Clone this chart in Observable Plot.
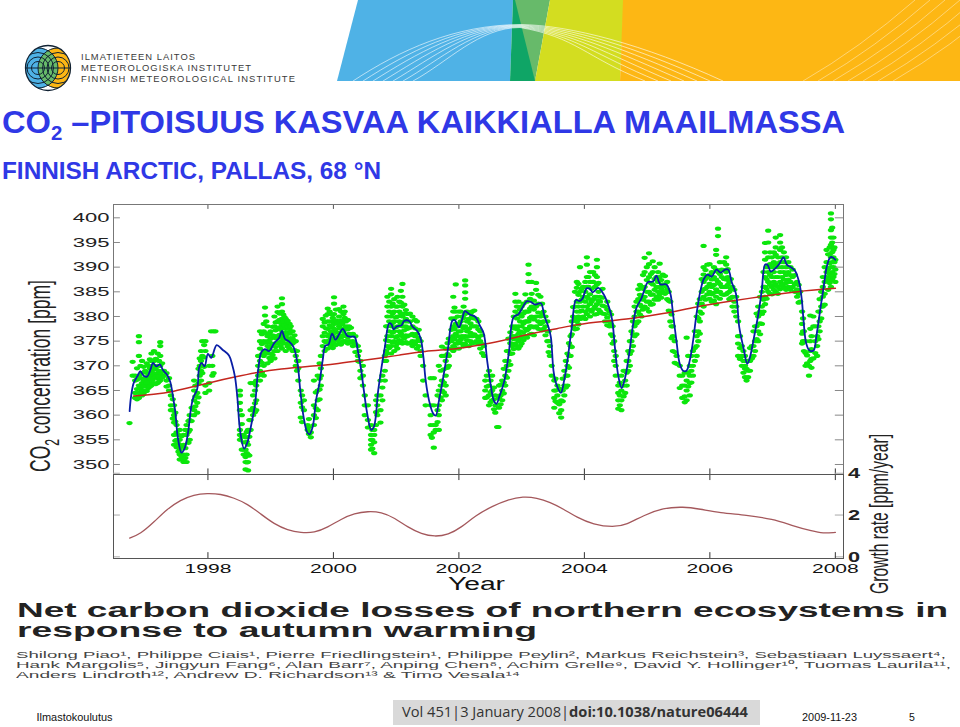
<!DOCTYPE html>
<html><head><meta charset="utf-8">
<script src="https://cdn.jsdelivr.net/npm/d3@7"></script>
<script src="https://cdn.jsdelivr.net/npm/@observablehq/plot@0.6"></script>
<style>
html,body{margin:0;padding:0;background:#fff}
#page{position:relative;width:960px;height:727px;overflow:hidden}
#page>svg{position:absolute;left:0;top:0;background:transparent}
</style></head><body><div id="page"></div>
<script>
const yearTicks=[1998,2000,2002,2004,2006,2008];
const co2Ticks=[350,355,360,365,370,375,380,385,390,395,400];
const rateTicks=[0,2,4];
const co2Title="CO";
const mainTitle=" –PITOISUUS KASVAA KAIKKIALLA MAAILMASSA";
const subTitle="FINNISH ARCTIC, PALLAS, 68 °N";
const paperTitle=["Net carbon dioxide losses of northern ecosystems in","response to autumn warming"];
const authors=["Shilong Piao¹, Philippe Ciais¹, Pierre Friedlingstein¹, Philippe Peylin², Markus Reichstein³, Sebastiaan Luyssaert⁴,",
"Hank Margolis⁵, Jingyun Fang⁶, Alan Barr⁷, Anping Chen⁸, Achim Grelle⁹, David Y. Hollinger¹⁰, Tuomas Laurila¹¹,",
"Anders Lindroth¹², Andrew D. Richardson¹³ & Timo Vesala¹⁴"];
const logoLines=["ILMATIETEEN LAITOS","METEOROLOGISKA INSTITUTET","FINNISH METEOROLOGICAL INSTITUTE"];

// monthly-smoothed concentration (blue)
const smooth=[[1996.752,360.8],[1996.773,363.6],[1996.816,366.5],[1996.88,368],[1996.923,368.9],[1996.976,368],[1997.03,367.8],[1997.083,369.2],[1997.125,370.6],[1997.179,369.9],[1997.232,370.3],[1997.285,369.1],[1997.349,368.2],[1997.4,366.7],[1997.445,363.6],[1997.483,360.3],[1997.52,355.5],[1997.579,352.4],[1997.627,353.2],[1997.68,356.2],[1997.733,361.6],[1997.765,363.5],[1997.829,365.3],[1997.861,369.7],[1997.899,370.6],[1997.947,369.9],[1998,372.4],[1998.053,371.6],[1998.139,374.2],[1998.229,373.3],[1998.336,372.1],[1998.389,370.1],[1998.432,367.7],[1998.469,363.6],[1998.512,356.9],[1998.576,353.2],[1998.629,354.5],[1998.693,358.2],[1998.752,362.3],[1998.8,369.1],[1998.853,372.8],[1998.907,373.4],[1998.976,373],[1999.056,374.6],[1999.136,375.7],[1999.179,377.1],[1999.227,375.5],[1999.296,374.9],[1999.365,373.8],[1999.429,370.4],[1999.472,365],[1999.525,359.6],[1999.579,356.6],[1999.616,356.1],[1999.669,357.6],[1999.723,363],[1999.776,366.4],[1999.829,371.1],[1999.872,374.1],[1999.92,374.3],[1999.979,376.5],[2000.032,375.3],[2000.096,376.5],[2000.149,377.5],[2000.219,376.1],[2000.272,375.9],[2000.336,375.9],[2000.389,373.1],[2000.443,369.1],[2000.485,365],[2000.539,360.3],[2000.603,357],[2000.645,357.6],[2000.714,365],[2000.767,369.7],[2000.82,373.8],[2000.889,378.6],[2000.926,378.4],[2000.958,377.4],[2001.011,378],[2001.085,378.2],[2001.127,379.1],[2001.206,379.1],[2001.259,378],[2001.339,377],[2001.392,375.5],[2001.434,371.8],[2001.471,367],[2001.524,363],[2001.587,360.4],[2001.63,359.9],[2001.683,363],[2001.751,367.7],[2001.825,373.4],[2001.894,379.1],[2001.931,379.3],[2002,377.8],[2002.053,379.5],[2002.095,381.1],[2002.175,380.4],[2002.265,379.9],[2002.333,378.2],[2002.397,376.5],[2002.45,371.1],[2002.503,366.4],[2002.556,363],[2002.598,362.3],[2002.651,364],[2002.725,367],[2002.794,372.4],[2002.873,379.9],[2002.952,380.5],[2003.005,381.6],[2003.085,383.1],[2003.138,383],[2003.217,382.4],[2003.307,382.7],[2003.36,380.2],[2003.429,377.8],[2003.466,375.8],[2003.508,369],[2003.55,366.4],[2003.624,364.5],[2003.677,367],[2003.73,371.1],[2003.799,377.8],[2003.868,383.4],[2003.921,383.1],[2003.968,383.6],[2004.037,385.7],[2004.09,385.6],[2004.132,384.9],[2004.222,385.8],[2004.302,384.6],[2004.392,381.9],[2004.444,379.2],[2004.486,373.8],[2004.54,368],[2004.593,365.5],[2004.646,367.4],[2004.714,372.4],[2004.778,378.5],[2004.831,381.8],[2004.907,383.6],[2005.013,387],[2005.067,387],[2005.104,387.2],[2005.147,388.3],[2005.211,386.5],[2005.307,386.5],[2005.371,384.6],[2005.413,380.5],[2005.467,375.1],[2005.52,370.4],[2005.573,369],[2005.627,369],[2005.68,371.1],[2005.733,375.1],[2005.787,380.5],[2005.851,385.3],[2005.904,387.6],[2005.963,388.5],[2006.027,388.1],[2006.107,389.5],[2006.171,388.9],[2006.24,389.5],[2006.293,389.5],[2006.347,387],[2006.416,384.6],[2006.469,377.8],[2006.533,373.8],[2006.597,370.4],[2006.64,371.8],[2006.704,375.8],[2006.773,380.5],[2006.827,385.3],[2006.88,390.5],[2006.917,390.5],[2006.971,389.1],[2007.04,389.7],[2007.109,390.7],[2007.173,392],[2007.227,390.5],[2007.291,390],[2007.36,389.2],[2007.429,386.6],[2007.467,383.2],[2007.493,379.2],[2007.536,374.5],[2007.589,373.1],[2007.653,373.1],[2007.696,375.8],[2007.749,380.5],[2007.813,385.9],[2007.867,390.3],[2007.92,392],[2007.957,392],[2008,391.5]];

// long-term trend (red)
const trend=[[1996.816,363.9],[1997.136,364.2],[1997.456,364.8],[1997.776,365.8],[1998.096,366.8],[1998.416,367.7],[1998.79,368.7],[1999.16,369.4],[1999.59,369.9],[2000.016,370.3],[2000.443,371.1],[2000.763,371.6],[2001.021,372.1],[2001.444,373],[2001.973,373.4],[2002.397,374.3],[2002.82,375.5],[2003.243,376.8],[2003.56,377.5],[2003.878,378.4],[2004.3,379],[2004.72,379.5],[2005.253,380.5],[2005.787,382],[2006.32,383.1],[2006.853,384.1],[2007.387,385.1],[2008,385.7]];

// growth rate (lower panel)
const growth=[[1996.752,.9],[1996.923,1.09],[1997.136,1.65],[1997.349,2.29],[1997.563,2.72],[1997.776,2.98],[1997.989,3.04],[1998.203,3.01],[1998.416,2.82],[1998.629,2.53],[1998.843,2.05],[1999.056,1.57],[1999.269,1.28],[1999.483,1.15],[1999.696,1.15],[1999.909,1.41],[2000.123,1.81],[2000.336,2.08],[2000.549,2.18],[2000.763,2.14],[2000.976,1.86],[2001.189,1.41],[2001.403,1.09],[2001.616,.96],[2001.829,1.06],[2002.043,1.41],[2002.256,1.97],[2002.552,2.45],[2002.764,2.72],[2003.03,2.9],[2003.24,2.82],[2003.454,2.61],[2003.666,2.29],[2003.878,1.89],[2004.143,1.54],[2004.462,1.41],[2004.674,1.54],[2004.939,1.98],[2005.257,2.34],[2005.576,2.4],[2005.84,2.29],[2006.16,2.1],[2006.58,2],[2007,1.81],[2007.32,1.49],[2007.64,1.22],[2007.8,1.12],[2008,1.17]];

// daily samples (green), column by column: [year,[ppm,...]]
const green1997=[[1996.75,[358.4]],[1996.8,[370.8,368]],[1996.84,[363.5,364.5,367,368]],[1996.9,[376,374.8,372,368,366,364.5,363.5]],[1996.95,[371,368.5,366.5,365,364]],[1997,[369,367.5,366,365]],[1997.05,[370,368,367,366,365.5]],[1997.1,[372.5,371,369,368,366.5,366]],[1997.14,[373,371,369.5,368,366.5]],[1997.2,[372.5,370,368.5,367.5,366.5]],[1997.24,[374.8,374,372,370,368.5,367]],[1997.3,[369,368]],[1997.38,[367.5,366,365]],[1997.41,[364,362,361]],[1997.46,[362,360,358.5,356,354]],[1997.5,[358,356.5,355,353.5]],[1997.55,[357,355,353,352,351]],[1997.61,[356,354,352,351,350.5]],[1997.66,[358,356,352,350.5]],[1997.71,[360,359,357,355]],[1997.78,[367,365,363,361,360]],[1997.83,[364.5,362.5,360.5]],[1997.87,[371.5,370,368]],[1997.91,[375,372,370,368.5]],[1997.96,[375,373,366,364.5]],[1998.02,[370,366.5,365]],[1998.05,[377]],[1998.07,[372,370,368]],[1998.09,[377,368.5]],[1998.12,[377]]];
const green1998=[[1998.51,[365,364,362.5,361,357,356,355]],[1998.57,[356,354.5,353,352]],[1998.6,[355.5,353,351.5,350.5,349]],[1998.64,[357,354,352,350.5,348.8]],[1998.68,[366.5,361,359,357]],[1998.72,[366.5,364,361.5,360]],[1998.77,[367,366,363,361]],[1998.8,[372,370,368]],[1998.83,[377,375,373.5,371,369,367]],[1998.89,[378.5,377,375,373,372,370,368]],[1998.91,[381.8,380.2]],[1998.95,[378,376,375,374,372.5,370.5]],[1999,[377,375.5,374,372.5,371]],[1999.06,[380,378,376,374.5,373,371.5]],[1999.11,[382,380.9,379,377.5,376,374.5,373]],[1999.18,[383.7,382.5,381,379.5,378,376.5,375,373.5]],[1999.24,[379.5,378.5,377.5,376,374.5,373]],[1999.3,[378.5,377.5,376.5,375,373.5]],[1999.35,[377,375.5,374.5,373]],[1999.4,[375,372,370]],[1999.44,[371,369.5,367]],[1999.48,[365,362.5,359.5]],[1999.53,[363,361]],[1999.59,[358,357]],[1999.64,[356.5,355.5]],[1999.69,[367,362,360,358]],[1999.75,[368,365,363,361]],[1999.8,[372,369.5,368,366]],[1999.83,[379.5,378,376,374]],[1999.91,[381.6,380.5,379,377.5,376,375,373.5]],[1999.96,[380.5,379,377,375.5,374]],[2000.01,[383.9,382.6,380.5,378.5,377,375.5,374.5]],[2000.09,[381.5,380,378,376,374.5]],[2000.16,[382,380.5,379,377,375]],[2000.2,[379,378,376,375]],[2000.25,[378,376.5,375]],[2000.31,[376.5,375,374]],[2000.39,[374,372,371]],[2000.43,[371,369,367.5]],[2000.47,[370,368,366]]];
const green2000=[[2000.5,[364,362,360]],[2000.55,[362,359,357.5]],[2000.6,[358,356,355,354,353]],[2000.65,[357,356,354.5,352.3]],[2000.7,[364,362,360]],[2000.75,[367,364,361,358.5]],[2000.82,[372,371,369,367]],[2000.86,[384,382,380,378,376,374,372.5]],[2000.92,[385.6,384.5,382,380,378,376,374,372.5]],[2000.97,[383.5,381,379,377,375,373]],[2001.02,[384,382,380,378,376,374.5,373.5]],[2001.1,[386.6,384,382,380,378,376,374.5]],[2001.18,[380.5,379,377.5,376,374.5]],[2001.26,[380,378,376.5,375,374]],[2001.33,[379,376.5,375,373.5]],[2001.39,[375,373,372]],[2001.43,[370,367]],[2001.47,[364,362]],[2001.55,[367.5,362,360,358,356]],[2001.57,[355.4]],[2001.6,[367.5,362,358,356.5,353.4]],[2001.63,[358,357]],[2001.68,[370,365,362,360,357]],[2001.73,[373.9,372,367,365,363]],[2001.79,[373.5,371,368,366,364]],[2001.84,[375.5,373.5,372,370]],[2001.91,[384,381,379.5,378,376,374,373]],[2001.95,[386.5,381,378.5,376.5,374.5,373.5]],[2002,[381,378.5,377,375,373.5]],[2002.05,[380,378,376,374.5]],[2002.1,[387.3,386.3,384.9,383.6,380.5,378,376,374.5]],[2002.16,[379.5,377.5,376,374]],[2002.21,[381,380,378,376,374.5]],[2002.28,[379.5,378,376,375]],[2002.34,[377,375,373.5]],[2002.4,[374,372]]];
const green2002=[[2002.42,[367,365,363.5]],[2002.48,[369,366,364,362]],[2002.53,[368,365,363]],[2002.58,[364,362,360.5]],[2002.61,[357.6]],[2002.63,[357.6]],[2002.64,[366,363.5,361.5]],[2002.69,[367,365,363]],[2002.74,[371,368,366]],[2002.79,[375.5,373,371,369]],[2002.85,[378,376,374,372.5]],[2002.9,[384.6,383,381,378,376,374.5]],[2002.95,[383,380.5,378,376.5,375,373.5]],[2003,[382,380,378,376,374.5]],[2003.06,[384.5,381,379,377.5,376]],[2003.11,[390.5,388.6,387,381,379,377.5]],[2003.16,[387,384.6,382,380,378,376.5]],[2003.23,[386.8,385.4,382,380,378]],[2003.3,[384,382.5,380,378.5]],[2003.35,[381,379,377.5]],[2003.41,[379,377,375]],[2003.45,[374,372]],[2003.48,[370,368]],[2003.52,[367,365,363.5,361.5]],[2003.57,[366,364,362.5]],[2003.63,[365,363,361,359.5]],[2003.68,[369,366,364]],[2003.73,[372.5,370,368,366]],[2003.78,[376,374,372]],[2003.82,[381.9,380,378]],[2003.88,[387,385.8,383,381,379,377.5]],[2003.93,[390,385,383,381,379.5]],[2003.98,[386,384,382,380]],[2004.04,[392,390.5,388,386,384,382,380.5]],[2004.09,[389,387,384.5,382.5,380]],[2004.14,[389,387,383.5,381.5]],[2004.2,[391.5,390,388,386.5,384,382.5,380.5]],[2004.25,[384,383,381]],[2004.33,[382,380.5,379]],[2004.4,[381,379,378]],[2004.45,[378,376,374.5]],[2004.5,[372,370,368]]];
const green2004=[[2004.54,[366,364.5,363,361.3]],[2004.59,[368,365,363,361]],[2004.65,[369,367,364.5]],[2004.7,[373,371,369]],[2004.75,[377,375,373]],[2004.8,[382,380,378,376]],[2004.86,[385.5,383.5,381,379]],[2004.91,[386,384,382,380]],[2004.96,[391.9,389,386,384,382]],[2005.03,[392.8,390.6,388,385,383,381]],[2005.09,[391.2,389,386.5,384.5,382.5]],[2005.15,[388,386,384]],[2005.2,[390.7,388,386,384.5]],[2005.25,[388.5,386.5,385]],[2005.32,[387,385.5,383.5]],[2005.37,[383,381,379]],[2005.41,[378,376,373]],[2005.47,[372,370.4]],[2005.52,[370,368,365.5]],[2005.56,[368,366,363.5]],[2005.63,[375.7,367,365,363]],[2005.68,[370,368,366.5,364]],[2005.73,[373,370,368]],[2005.79,[380,376,374,372]],[2005.84,[383.5,381,379,376.5]],[2005.9,[394.3,390,388.5,387,385.5,384,382]],[2005.96,[390.5,388,386,384.5]],[2006.03,[389,387.5,386,384.5,383]],[2006.1,[393.5,392.5,389.5,387.5,385.5,384,382.5]],[2006.13,[397.8,396.3,389,387,385]],[2006.19,[389.5,388,386,384.5]],[2006.26,[392,390.5,389,387.5,386,384.5]],[2006.31,[387,385,383.5]],[2006.36,[386,384,382]],[2006.42,[384,382,380]]];
const green2006=[[2006.45,[379,376,374.5,372]],[2006.51,[374,372,370]],[2006.56,[372,370,369.4,367.7]],[2006.61,[371,369,367.7]],[2006.67,[374,371.5]],[2006.72,[378,375,373]],[2006.77,[382,380,377,375]],[2006.83,[385,382,380.5,378.5]],[2006.88,[394.9,393,391.5,388,386,384,382.5]],[2006.93,[397.4,395,392,389,387,385]],[2006.99,[392,390,388,386,384.5]],[2007.05,[396,394,392.5,390.5,388,386.5,385]],[2007.12,[396.5,395,393.5,391,389,387,385.5]],[2007.18,[393,391,389,387.5,386]],[2007.25,[391,389,387.5,386]],[2007.32,[389.5,388,386]],[2007.39,[387,385.5,384]],[2007.44,[385,383]],[2007.47,[381,378.5,376.5,374.5]],[2007.5,[377,375,373]],[2007.55,[372.1,370.5]],[2007.58,[370,368]],[2007.6,[380.2,377.5,375,373,371]],[2007.65,[380,378,371.5]],[2007.71,[376,374,372]],[2007.75,[383.5,381,379,377]],[2007.8,[388,386,384,382]],[2007.86,[393.5,391,389,388]],[2007.93,[400.9,399.7,397.5,396,394.5,392,390,388,386]],[2007.97,[396,393.5,392,390,388]],[2008,[391.5,389.5,387]]];
// second pass over the dense winter clouds and flanks, read between the columns above
const greenDense1=[[1996.87,[369.5,367.2,365.3,363.2]],[1996.925,[370,367.5,365.5]],[1996.975,[369.8,367,365.8,364.3]],[1997.025,[370.5,368.6,366.6,364.9]],[1997.075,[371.3,369.5,367.5,365.8]],[1997.12,[370,368.6,367.2]],[1997.17,[371.4,369.3,367.8,366.3]],[1997.22,[371,369,367.8,366.8]],[1997.27,[370.5,368.9,367.6]],[1997.34,[368.5,367,365.8]],[1997.44,[363.2,361,359.3]],[1997.48,[360.5,358.7,354.8]],[1997.53,[356,354.2,352.6]],[1997.58,[355.7,353.7,351.6]],[1997.64,[357,353.3,351.3]],[1997.69,[358.8,356.6,354.4]],[1997.74,[361.5,358.8]],[1997.8,[366,363.8,361.8]],[1997.85,[369.4,366.4,363.6]],[1997.89,[373,371,369,367]],[1997.94,[374.2,371.7,369.8]]];
const greenDense2=[[1998.54,[360,358.2,355.6,353]],[1998.62,[356.6,354.6,352.3,350.4]],[1998.66,[359,355.6,351.8]],[1998.75,[365,362.4,360.6]],[1998.86,[376.4,374.4,372.3,370.6,368.6]],[1998.93,[379,376.6,374.7,372.7]],[1998.98,[376.6,374.8,373.4,371.6]],[1999.03,[377.9,376.2,374.2,372.2]],[1999.08,[378.8,377.2,375.6,373.8]],[1999.14,[380.6,379.3,377.8,376.3,374.8]],[1999.16,[378.7,377.3,375.7,374]],[1999.2,[380.4,379,377.7,376.1,374.6]],[1999.22,[379.9,378.2,376.7,375.4]],[1999.27,[379.1,377.9,376.8,375.4,373.9]],[1999.32,[378,376.9,375.6,374.3]],[1999.38,[376.2,374.9,373.2]],[1999.42,[373,371,369]],[1999.5,[364,361.6,358.6]],[1999.61,[359.2,357.6,356.2]],[1999.72,[364.6,361.4,359.4]],[1999.78,[370.5,367.4,365.2,363.2]],[1999.86,[378.8,376.7,375,373]],[1999.88,[380.2,377.6,374.8]],[1999.94,[381,378.2,376.4,374.6]],[1999.99,[379.7,377.7,376.3,374.9,373.6]],[2000.04,[381.4,379.2,377.4,375.7,374.2]],[2000.07,[378.7,376.7,375.2]],[2000.12,[381,379.2,377.5,375.7,374.3]],[2000.14,[378.5,376.2,374.7]],[2000.18,[381,379.7,377.7,376.3]],[2000.23,[379.3,377.4,375.8,374.5]],[2000.28,[377.7,376.2,374.7]],[2000.35,[376,374.4,372.8]],[2000.41,[373,370.8]]];
const greenDense3=[[2000.62,[357,355,353.2]],[2000.68,[363,360.6,358]],[2000.78,[368,365.6,363]],[2000.84,[378,375.2,373,371]],[2000.89,[383,381,379,377,375,373.6]],[2000.945,[382.6,380.6,378.7,376.7,374.7]],[2000.995,[382,379.8,377.8,375.8,374]],[2001.05,[383,381,379,377,375.2]],[2001.075,[385.2,382.8,380.6,378.6,376.6,375]],[2001.13,[382.4,380.6,379,377.2,375.6]],[2001.155,[381.3,379.5,378,376.2,374.8]],[2001.22,[380.6,379,377.7,376.2,374.6]],[2001.3,[379.3,377.6,376,374.4]],[2001.36,[377.3,375.6,374]],[2001.66,[364,361,358.6]],[2001.71,[369,366,363.6]],[2001.76,[372,369.3,366.6,364.6]],[2001.82,[374.6,372.4,369.6]],[2001.88,[379.6,377.3,375,373.4]],[2001.93,[381.8,379.6,377.4,375.4,373.7]],[2001.98,[380,378,376,374.5]],[2002.03,[381,379,377,375.3]],[2002.075,[382,379.7,377.6,375.8,374]],[2002.13,[381,379,377,375.2]],[2002.185,[380.6,378.6,376.7,375]],[2002.245,[381.2,379.6,378,376.4,374.7]],[2002.31,[379,377.4,375.7,374.4]],[2002.37,[376.2,374.4,372.6]]];
const greenDense4=[[2002.445,[368,365.8,363.6]],[2002.505,[367,364.6,362.6]],[2002.56,[365.6,363.2,361.2]],[2002.665,[366.2,364,362.2]],[2002.715,[369.4,366.6,364.4]],[2002.765,[373,370,367.6]],[2002.82,[376.8,374.6,372.4,370.2]],[2002.875,[380,377.6,375.4,373.4]],[2002.925,[382,379.6,377.4,375.6,374]],[2002.975,[381.4,379,377,375.4,374]],[2003.03,[382.6,380.6,378.6,376.8,375.2]],[2003.085,[383,381,379,377.2,375.7]],[2003.135,[383.6,381.6,379.7,378,376.4]],[2003.195,[383.2,381.4,379.4,377.8,376.2]],[2003.265,[384.4,382.6,380.8,379,377.5]],[2003.325,[382.6,380.6,378.8,377.2]],[2003.38,[380,378,376.2]],[2003.43,[377,375,372.8]],[2003.54,[367.4,365,362.8]],[2003.6,[365.4,362.2,360.4]],[2003.655,[367.4,365,362.8]],[2003.705,[371,368,365.6]],[2003.755,[374.6,372,369.6]],[2003.8,[379,376.4,373.8]],[2003.85,[385,382,379.6,377.4]],[2003.905,[386.6,384.4,382,380,378.4]],[2003.955,[385.6,383.4,381.2,379.6]],[2004.015,[387,385,383,381,379.5]],[2004.065,[388,386,383.6,381.4]],[2004.115,[385.6,383,381]],[2004.17,[388.4,386,384,382,380.4]],[2004.225,[386.8,385,383.2,381.4]],[2004.29,[385.6,383.8,382.2,380.6]],[2004.365,[383,381.4,379.8,378.2]],[2004.425,[380.4,378.4,376.4]],[2004.475,[375,373,371]]];
const greenDense5=[[2004.565,[366.6,364,362]],[2004.625,[369,366,363.8]],[2004.675,[371,368.6,366]],[2004.725,[375,372.4,370]],[2004.775,[379,376.4,374]],[2004.83,[383,381,378.6,376.4]],[2004.885,[386.4,384.4,382.4,380.4]],[2004.935,[388.4,385.6,383.4,381.4]],[2004.995,[390,387.4,385,383,381.6]],[2005.06,[388.6,386.8,384.4,382.4]],[2005.12,[390,387.6,385.4,383.4]],[2005.175,[389,387,385,383.4]],[2005.225,[387.4,385.6,383.8]],[2005.285,[388.2,386.2,384.6]],[2005.345,[385,383.2,381.2]],[2005.39,[380.4,378,375.6]],[2005.44,[375,372.8,370.6]],[2005.6,[368.6,366,363.8,362.6]],[2005.655,[372,368.6,365.8]],[2005.705,[372,369,366.6]],[2005.76,[377,373.6,371]],[2005.815,[382.6,379.6,377,375]],[2005.87,[387.6,385,382.6,380.6]],[2005.93,[389.4,387.6,385.6,383.4]],[2005.995,[390.6,388.4,386.6,385,383.6]],[2006.065,[390,388,386.4,384.8,383.2]],[2006.16,[391,388.6,386.6,385,383.6]],[2006.225,[391,389.4,387.6,386,384.4]],[2006.285,[389.6,388,386.4,384.8]],[2006.335,[387.6,385.6,383.8]],[2006.39,[385.4,383,381]]];
const greenDense6=[[2006.48,[376,373.6,371.4]],[2006.535,[373,371,368.6]],[2006.585,[371,369.4,367]],[2006.64,[373.6,371,369]],[2006.695,[377,374,372]],[2006.745,[380.6,378,375.4]],[2006.8,[384,381,378.6,376.4]],[2006.855,[389,386,383.4,381]],[2006.905,[390,387.6,385.6,383.6]],[2006.96,[393,390.6,388.4,386.4,384.6]],[2007.02,[393,391,389,387,385.4]],[2007.085,[392,390,388,386,384.6]],[2007.15,[394,392,390,388,386.4]],[2007.215,[392,390,388.4,386.8,385.4]],[2007.285,[390,388.4,387,385.4]],[2007.355,[388.4,386.6,385]],[2007.415,[386.4,384.6,382.8]],[2007.485,[379.6,377,375]],[2007.525,[375,372.6,370]],[2007.62,[376,373.4,371.4,369.6]],[2007.68,[378,375,372.6]],[2007.73,[381,378,375.4]],[2007.775,[385,382,379.6]],[2007.83,[390,387,384.6,382.4]],[2007.885,[392.6,389.6,387.4,385.4]],[2007.91,[394,392.6,390.8,388.6,386.8]],[2007.95,[398,395,393,391,389,387.4]],[2007.985,[394,391,388.6]]];

const green=[...green1997,...greenDense1,...green1998,...greenDense2,...green2000,...greenDense3,...green2002,...greenDense4,...green2004,...greenDense5,...green2006,...greenDense6]
  .flatMap(([year,vals])=>vals.map(ppm=>({year,ppm})));

const xDomain=[1996.495,2008.13];
const ellipse={draw(c){const a=3.2,b=2.1,k=.5523;
  c.moveTo(a,0);c.bezierCurveTo(a,k*b,k*a,b,0,b);c.bezierCurveTo(-k*a,b,-a,k*b,-a,0);
  c.bezierCurveTo(-a,-k*b,-k*a,-b,0,-b);c.bezierCurveTo(k*a,-b,a,-k*b,a,0);c.closePath();}};

function stretch(svg,sel,sx){ // widen axis labels, as in the stretched source picture
  svg.querySelectorAll(sel).forEach(t=>{
    const tr=t.getAttribute("transform")||"";
    const x=parseFloat(t.getAttribute("x"));
    if(!isNaN(x)) t.setAttribute("x",x/sx);
    t.setAttribute("transform",`${tr} scale(${sx},1)`);
  });
}

const upper=Plot.plot({width:960,height:480,marginLeft:113,marginRight:117,marginTop:204,marginBottom:6,
  style:{fontFamily:"Liberation Sans",background:"transparent"},
  x:{domain:xDomain,axis:null},
  y:{domain:[347.97,402.7],label:null,axis:null},
  marks:[
    Plot.dot(green,{x:"year",y:"ppm",symbol:ellipse,fill:"#0ce60c",stroke:"none"}),
    Plot.line(trend,{x:d=>d[0],y:d=>d[1],stroke:"#c4261e",strokeWidth:1.5,curve:"basis"}),
    Plot.line(smooth,{x:d=>d[0],y:d=>d[1],stroke:"#0a1ea6",strokeWidth:1.8,curve:"catmull-rom"}),
    Plot.ruleY(co2Ticks,{x1:xDomain[0],x2:xDomain[0]+.11,stroke:"#888"}),
    Plot.ruleY(co2Ticks,{x1:xDomain[1]-.13,x2:xDomain[1],stroke:"#888"}),
    Plot.ruleX(yearTicks,{y1:402.7,y2:401.7,stroke:"#555"}),
    Plot.ruleX(yearTicks,{y1:347.97,y2:349.1,stroke:"#333"}),
    Plot.frame({stroke:"#777"}),
    Plot.axisY(co2Ticks,{anchor:"left",tickSize:0,tickPadding:4,label:null,fontSize:12.6,fill:"#222"})
  ]});
stretch(upper,'g[aria-label="y-axis tick label"] text',1.75);

const lower=Plot.plot({width:960,height:600,marginLeft:113,marginRight:117,marginTop:474,marginBottom:42,
  style:{fontFamily:"Liberation Sans",background:"transparent"},
  x:{domain:xDomain,axis:null},
  y:{domain:[-.08,3.94],axis:null,label:null},
  marks:[
    Plot.line(growth,{x:d=>d[0],y:d=>d[1],stroke:"#a4585c",strokeWidth:1.3,curve:"basis"}),
    Plot.ruleY(rateTicks,{x1:xDomain[0],x2:xDomain[0]+.11,stroke:"#aaa"}),
    Plot.ruleY(rateTicks,{x1:xDomain[1]-.13,x2:xDomain[1],stroke:"#aaa"}),
    Plot.ruleX(yearTicks,{y1:3.94,y2:3.65,stroke:"#333"}),
    Plot.ruleX(yearTicks,{y1:-.08,y2:.2,stroke:"#333"}),
    Plot.frame({stroke:"#555"}),
    Plot.axisX(yearTicks,{anchor:"bottom",tickSize:0,tickPadding:5,label:null,tickFormat:d=>String(d),fontSize:13.6,fill:"#111"}),
    Plot.axisY(rateTicks,{anchor:"right",tickSize:0,tickPadding:4.5,label:null,fontSize:15,fontWeight:"bold",fill:"#222"})
  ]});
stretch(lower,'g[aria-label="x-axis tick label"] text',1.55);
stretch(lower,'g[aria-label="y-axis tick label"] text',1.45);

// banner swooshes
const blueArcs=d3.range(7).map(i=>`M${353+10*i} 81C${400+8*i} ${50+2*i} ${455+4*i} ${25+i*.4} ${520} ${24.5+i*.5}C${570+i} ${25+2*i} ${645-10*i} ${45+2*i} ${723-13*i} 81`).join("");
const goldArcs=d3.range(7).map(i=>`M${803+15*i} 81Q${860+15*i} ${48} ${915+15*i} 0`).join("");
const ringL=[20,15.5,11,6.5].map(r=>`<circle cx="38" cy="68" r="${r}"/>`).join("");
const ringR=[20,15.5,11,6.5].map(r=>`<circle cx="58" cy="68" r="${r}"/>`).join("");

const sans='font-family="Liberation Sans"';
const overlay=`<svg width="960" height="727" xmlns="http://www.w3.org/2000/svg" ${sans}>
<defs><clipPath id="banner"><rect x="330" y="0" width="630" height="81"/></clipPath>
<clipPath id="disc"><circle cx="48" cy="68" r="22.5"/></clipPath>
<clipPath id="lens"><circle cx="38" cy="68" r="20"/></clipPath></defs>
<g clip-path="url(#banner)">
<polygon points="358,0 513,0 510,81 337,81" fill="#4fb2e6"/>
<polygon points="513,0 516,0 536,81 510,81" fill="#0fa566"/>
<polygon points="515,0 550,0 535,81" fill="#67ba6a"/>
<polygon points="550,0 624,0 620,81 535,81" fill="#d3dd20"/>
<polygon points="623,0 960,0 960,81 620,81" fill="#fdb714"/>
<path d="${blueArcs}" fill="none" stroke="#fff" stroke-opacity=".75" stroke-width=".8"/>
<path d="${goldArcs}" fill="none" stroke="#fff" stroke-opacity=".5" stroke-width=".8"/>
</g>
<g clip-path="url(#disc)">
<rect x="25" y="45" width="46" height="46" fill="#fff"/>
<circle cx="36" cy="68" r="21" fill="#4fb2e6"/>
<circle cx="60" cy="68" r="21" fill="#fdb714"/>
<circle cx="58" cy="68" r="20" fill="#67ba6a" clip-path="url(#lens)"/>
<g fill="none" stroke="#123" stroke-width="1">${ringL}${ringR}</g>
<line x1="25" y1="68" x2="71" y2="68" stroke="#123" stroke-width="1.1"/>
</g>
<circle cx="48" cy="68" r="22.5" fill="none" stroke="#123" stroke-width="1.3"/>
<g fill="#3a3a3a" font-size="9.4">
<text x="81" y="60" textLength="114" lengthAdjust="spacing">${logoLines[0]}</text>
<text x="81" y="71" textLength="170" lengthAdjust="spacing">${logoLines[1]}</text>
<text x="81" y="82" textLength="214" lengthAdjust="spacing">${logoLines[2]}</text>
</g>
<text x="2" y="133" font-size="32" font-weight="bold" fill="#2f38e6" textLength="843" lengthAdjust="spacingAndGlyphs">${co2Title}<tspan dy="7" font-size="20">2</tspan><tspan dy="-7">${mainTitle}</tspan></text>
<text x="2" y="179" font-size="24" font-weight="bold" fill="#2f38e6" textLength="379" lengthAdjust="spacingAndGlyphs">${subTitle}</text>
<text transform="translate(50,472) rotate(-90)" font-size="30" fill="#222" textLength="192" lengthAdjust="spacingAndGlyphs">CO<tspan dy="9" font-size="21">2</tspan><tspan dy="-9"> concentration [ppm]</tspan></text>
<text transform="translate(888,594) rotate(-90)" font-size="26" fill="#222" textLength="160" lengthAdjust="spacingAndGlyphs">Growth rate [ppm/year]</text>
<text x="448" y="590" font-size="18" fill="#111" textLength="57" lengthAdjust="spacingAndGlyphs">Year</text>
<g font-weight="bold" font-size="20" fill="#222">
<text x="17" y="617" textLength="931" lengthAdjust="spacingAndGlyphs">${paperTitle[0]}</text>
<text x="17" y="637" textLength="520" lengthAdjust="spacingAndGlyphs">${paperTitle[1]}</text>
</g>
<g font-size="9.6" fill="#444">
<text x="16" y="658" textLength="930" lengthAdjust="spacingAndGlyphs">${authors[0]}</text>
<text x="16" y="668" textLength="935" lengthAdjust="spacingAndGlyphs">${authors[1]}</text>
<text x="16" y="678" textLength="504" lengthAdjust="spacingAndGlyphs">${authors[2]}</text>
</g>
<rect x="393" y="700" width="367" height="25" fill="#d9d9d9"/>
<text x="402" y="717" font-family="Open Sans" font-size="15" fill="#333" textLength="346" lengthAdjust="spacingAndGlyphs">Vol 451|3 January 2008|<tspan font-weight="bold">doi:10.1038/nature06444</tspan></text>
<g font-size="10.5" fill="#111">
<text x="36.5" y="721" textLength="76" lengthAdjust="spacingAndGlyphs">Ilmastokoulutus</text>
<text x="802" y="721" textLength="55" lengthAdjust="spacingAndGlyphs">2009-11-23</text>
<text x="909" y="721">5</text>
</g>
</svg>`;

const page=document.getElementById("page");
page.append(upper,lower);
page.insertAdjacentHTML("beforeend",overlay);
</script></body></html>
